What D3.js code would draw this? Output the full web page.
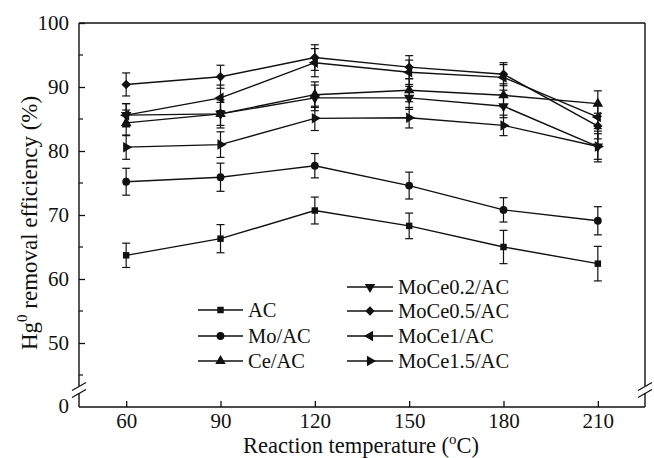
<!DOCTYPE html>
<html>
<head>
<meta charset="utf-8">
<script src="https://cdn.jsdelivr.net/npm/d3@7"></script>
<style>
  body { margin: 0; background: #fff; }
  svg text { font-family: "Times New Roman", "Liberation Serif", "DejaVu Serif", Times, serif; fill: #111; }
</style>
</head>
<body>
<svg id="chart" width="654" height="458"></svg>
<script>
// temperatures (x) and efficiencies (%)
const temps = [60, 90, 120, 150, 180, 210];
const xTicks = [60, 90, 120, 150, 180, 210];
const yTicks = [50, 60, 70, 80, 90, 100];
const yMinor = [45, 55, 65, 75, 85, 95];

const acVals = [63.7, 66.3, 70.7, 68.3, 65.0, 62.4];
const acErr = [1.9, 2.2, 2.1, 2.0, 2.6, 2.7];
const moVals = [75.2, 75.9, 77.7, 74.6, 70.8, 69.1];
const moErr = [2.1, 2.2, 1.9, 2.1, 1.9, 2.2];
const ceVals = [84.4, 85.8, 88.8, 89.5, 88.7, 87.4];
const ceErr = [2.0, 2.2, 2.0, 1.8, 1.8, 2.0];
const moce02Vals = [85.6, 85.8, 88.3, 88.3, 87.0, 80.7];
const moce02Err = [1.8, 1.8, 2.0, 1.8, 1.8, 2.0];
const moce05Vals = [90.4, 91.6, 94.6, 93.1, 92.0, 83.9];
const moce05Err = [1.8, 1.8, 2.0, 1.8, 1.8, 2.0];
const moce1Vals = [85.6, 88.3, 93.8, 92.3, 91.5, 85.3];
const moce1Err = [1.8, 2.0, 2.2, 1.9, 2.0, 1.8];
const moce15Vals = [80.6, 81.0, 85.1, 85.2, 84.0, 80.7];
const moce15Err = [1.9, 2.0, 1.9, 1.6, 1.6, 2.4];

const seriesNames = ["AC", "Mo/AC", "Ce/AC", "MoCe0.2/AC", "MoCe0.5/AC", "MoCe1/AC", "MoCe1.5/AC"];

const series = [
  { name: seriesNames[0], vals: acVals, err: acErr, sym: d3.symbolSquare, rot: 0, size: 42 },
  { name: seriesNames[1], vals: moVals, err: moErr, sym: d3.symbolCircle, rot: 0, size: 48 },
  { name: seriesNames[2], vals: ceVals, err: ceErr, sym: d3.symbolTriangle, rot: 0, size: 48 },
  { name: seriesNames[3], vals: moce02Vals, err: moce02Err, sym: d3.symbolTriangle, rot: 180, size: 48 },
  { name: seriesNames[4], vals: moce05Vals, err: moce05Err, sym: d3.symbolSquare, rot: 45, size: 44 },
  { name: seriesNames[5], vals: moce1Vals, err: moce1Err, sym: d3.symbolTriangle, rot: -90, size: 48 },
  { name: seriesNames[6], vals: moce15Vals, err: moce15Err, sym: d3.symbolTriangle, rot: 90, size: 48 },
];

const plotLeft = 79, plotRight = 645, plotTop = 23, plotBottom = 407;
const ink = "#111";
const serif = "'Times New Roman', 'Liberation Serif', 'DejaVu Serif', serif";

const svg = d3.select("#chart");

const xScale = d3.scaleLinear().domain([45, 225]).range([plotLeft, plotRight]);
const yScale = d3.scaleLinear().domain([40, 100]).range([plotBottom, plotTop]);
const breakY = 390;

// frame: top, bottom, right and left with a break
svg.append("line").attr("x1", plotLeft).attr("x2", plotRight).attr("y1", plotTop).attr("y2", plotTop)
  .attr("stroke", ink).attr("stroke-width", 1.4);
svg.append("line").attr("x1", plotLeft).attr("x2", plotRight).attr("y1", plotBottom).attr("y2", plotBottom)
  .attr("stroke", ink).attr("stroke-width", 1.6);
[plotLeft, plotRight].forEach((x) => {
  svg.append("line").attr("x1", x).attr("x2", x).attr("y1", plotTop).attr("y2", breakY - 4)
    .attr("stroke", ink).attr("stroke-width", 1.4);
  svg.append("line").attr("x1", x).attr("x2", x).attr("y1", breakY + 3).attr("y2", plotBottom)
    .attr("stroke", ink).attr("stroke-width", 1.4);
  [-3.5, 3.5].forEach((dy) => {
    svg.append("line")
      .attr("x1", x - 7).attr("y1", breakY + dy + 4)
      .attr("x2", x + 7).attr("y2", breakY + dy - 4)
      .attr("stroke", ink).attr("stroke-width", 1.3);
  });
});

// y axis (ticks inward)
const yAxis = d3.axisLeft(yScale).tickValues(yTicks).tickSize(-6).tickPadding(10);
const gy = svg.append("g").attr("transform", `translate(${plotLeft},0)`).call(yAxis)
  .attr("font-family", serif);
gy.select(".domain").remove();
gy.selectAll(".tick line").attr("stroke", ink).attr("stroke-width", 1.3);
gy.selectAll(".tick text").attr("font-size", 21).attr("fill", ink).style("font-family", serif);
svg.append("g").selectAll("line").data(yMinor).join("line")
  .attr("x1", plotLeft).attr("x2", plotLeft + 4)
  .attr("y1", (d) => yScale(d)).attr("y2", (d) => yScale(d))
  .attr("stroke", ink).attr("stroke-width", 1.2);
svg.append("text").attr("x", plotLeft - 10).attr("y", plotBottom + 6)
  .attr("text-anchor", "end").attr("font-size", 21).style("font-family", serif).text("0");

// x axis (ticks inward)
const xAxis = d3.axisBottom(xScale).tickValues(xTicks).tickSize(-6).tickPadding(6);
const gx = svg.append("g").attr("transform", `translate(0,${plotBottom})`).call(xAxis)
  .attr("font-family", serif);
gx.select(".domain").remove();
gx.selectAll(".tick line").attr("stroke", ink).attr("stroke-width", 1.3);
gx.selectAll(".tick text").attr("font-size", 21).attr("fill", ink).style("font-family", serif);

// axis titles
const xt = svg.append("text").attr("x", 361).attr("y", 453).attr("text-anchor", "middle")
  .attr("font-size", 22.5).style("font-family", serif);
xt.append("tspan").text("Reaction temperature (");
xt.append("tspan").attr("font-size", 15).attr("dy", -9).text("o");
xt.append("tspan").attr("dy", 9).text("C)");

const yt = svg.append("text").attr("transform", "translate(37,223) rotate(-90)")
  .attr("text-anchor", "middle").attr("font-size", 23).style("font-family", serif);
yt.append("tspan").text("Hg");
yt.append("tspan").attr("font-size", 15).attr("dy", -10).text("0");
yt.append("tspan").attr("dy", 10).text(" removal efficiency (%)");

// series
const line = d3.line().x((d) => xScale(d.t)).y((d) => yScale(d.v));
const marker = (s) => d3.symbol().type(s.sym).size(s.size)();

series.forEach((s) => {
  const pts = temps.map((t, i) => ({ t: t, v: s.vals[i], e: s.err[i] }));
  const g = svg.append("g");
  g.append("path").attr("d", line(pts)).attr("fill", "none").attr("stroke", ink).attr("stroke-width", 1.4);
  const eb = g.selectAll(".eb").data(pts).join("g");
  eb.append("line")
    .attr("x1", (d) => xScale(d.t)).attr("x2", (d) => xScale(d.t))
    .attr("y1", (d) => yScale(d.v - d.e)).attr("y2", (d) => yScale(d.v + d.e))
    .attr("stroke", ink).attr("stroke-width", 1.2);
  [-1, 1].forEach((sgn) => {
    eb.append("line")
      .attr("x1", (d) => xScale(d.t) - 4).attr("x2", (d) => xScale(d.t) + 4)
      .attr("y1", (d) => yScale(d.v + sgn * d.e)).attr("y2", (d) => yScale(d.v + sgn * d.e))
      .attr("stroke", ink).attr("stroke-width", 1.2);
  });
  g.selectAll(".mk").data(pts).join("path")
    .attr("d", marker(s))
    .attr("transform", (d) => `translate(${xScale(d.t)},${yScale(d.v)}) rotate(${s.rot})`)
    .attr("fill", ink);
});

// legend
const legendCols = [
  { x0: 198, x1: 243, tx: 248, rows: [310, 336, 361], items: series.slice(0, 3) },
  { x0: 347, x1: 393, tx: 398, rows: [287, 311, 336, 361], items: series.slice(3) },
];
legendCols.forEach((col) => {
  col.items.forEach((s, i) => {
    const y = col.rows[i];
    const mx = (col.x0 + col.x1) / 2;
    svg.append("line").attr("x1", col.x0).attr("x2", col.x1).attr("y1", y).attr("y2", y)
      .attr("stroke", ink).attr("stroke-width", 1.4);
    svg.append("path").attr("d", marker(s))
      .attr("transform", `translate(${mx},${y}) rotate(${s.rot})`).attr("fill", ink);
    svg.append("text").attr("x", col.tx).attr("y", y + 7).attr("font-size", 20.5)
      .style("font-family", serif).text(s.name);
  });
});
</script>
</body>
</html>
